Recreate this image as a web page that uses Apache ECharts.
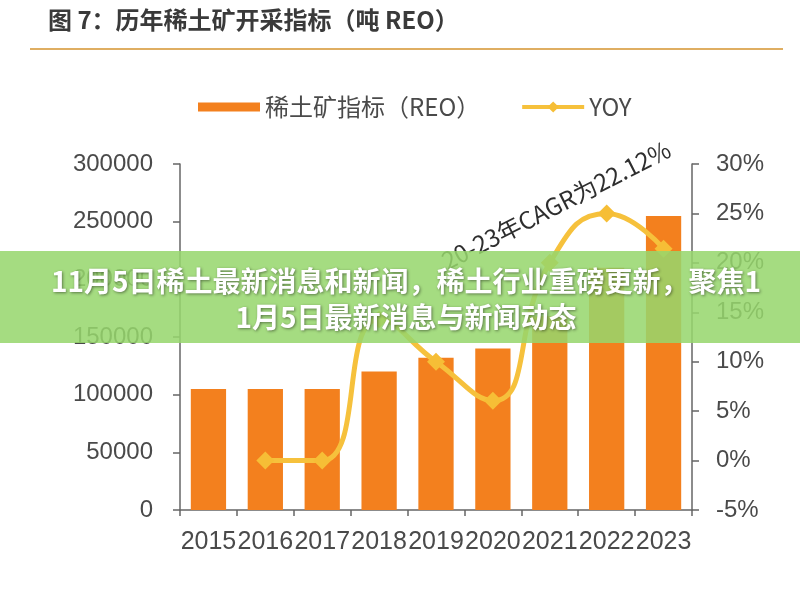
<!DOCTYPE html>
<html>
<head>
<meta charset="utf-8">
<script src="https://cdn.jsdelivr.net/npm/echarts@6/dist/echarts.min.js"></script>
<style>html,body{margin:0;padding:0;background:#fff;}#c{width:800px;height:594px;}</style>
</head>
<body>
<div id="c"></div>
<script>
var years = ['2015','2016','2017','2018','2019','2020','2021','2022','2023'];
var quota = [105000,105000,105000,120000,132000,140000,168000,210000,255000];
var yoy = [null,0,0,14.29,10,6.06,20,25,21.43];
var leftTicks = {min:0, max:300000, interval:50000};
var rightTicks = {min:-5, max:30, interval:5};
var titleText = '图 7：历年稀土矿开采指标（吨 REO）';
var barName = '稀土矿指标（REO）';
var lineName = 'YOY';
var annotation = '20-23年CAGR为22.12%';
var bannerText = '11月5日稀土最新消息和新闻，稀土行业重磅更新，聚焦1\n1月5日最新消息与新闻动态';

var chart = echarts.init(document.getElementById('c'), null, {renderer:'canvas'});
var axisFont = {fontFamily:'Liberation Sans, Arial, sans-serif', fontSize:24, color:'#4a4a4a'};
chart.setOption({
  backgroundColor:'#ffffff',
  animation:false,
  textStyle:{fontFamily:'Liberation Sans, Noto Sans CJK SC, sans-serif'},
  legend:{
    left:193, top:90, itemWidth:62, itemHeight:14, itemGap:40,
    textStyle:{fontSize:24, color:'#4a4a4a', fontFamily:'Noto Sans CJK SC, Liberation Sans, sans-serif'},
    data:[
      {name:barName, icon:'path://M0,0H62V9H0Z'},
      {name:lineName, lineStyle:{width:4, color:'#F6C13C'}, itemStyle:{color:'#F6BE36'}}
    ]
  },
  grid:{left:180, right:108, top:164, bottom:84},
  xAxis:{
    type:'category', data:years, boundaryGap:true,
    axisLine:{lineStyle:{color:'#666', width:1.5}},
    axisTick:{show:true, length:6, lineStyle:{color:'#666', width:1.5}},
    axisLabel:Object.assign({interval:0, margin:20}, axisFont, {fontSize:25})
  },
  yAxis:[{
    type:'value', min:leftTicks.min, max:leftTicks.max, interval:leftTicks.interval,
    axisLine:{show:true, lineStyle:{color:'#666', width:1.5}},
    axisTick:{show:true, length:7, lineStyle:{color:'#666', width:1.5}},
    splitLine:{show:false},
    axisLabel:Object.assign({margin:27, formatter:function(v){return String(v);}}, axisFont)
  },{
    type:'value', min:rightTicks.min, max:rightTicks.max, interval:rightTicks.interval,
    axisLine:{show:true, lineStyle:{color:'#666', width:1.5}},
    axisTick:{show:true, length:7, lineStyle:{color:'#666', width:1.5}},
    splitLine:{show:false},
    axisLabel:Object.assign({margin:24, formatter:'{value}%'}, axisFont)
  }],
  series:[{
    name:barName, type:'bar', data:quota, barWidth:'62%',
    itemStyle:{color:'#F3801E'}
  },{
    name:lineName, type:'line', yAxisIndex:1, data:yoy, smooth:0.5,
    symbol:'diamond', symbolSize:18, connectNulls:false,
    lineStyle:{color:'#F6C13C', width:5},
    itemStyle:{color:'#F6BE36'}
  }],
  graphic:[
    {type:'text', left:48, top:8, z:10, style:{text:titleText, font:'bold 24px "Noto Sans CJK SC", sans-serif', fill:'#3a3a3a'}},
    {type:'line', z:10, shape:{x1:30,y1:49,x2:783,y2:49}, style:{stroke:'#DFAE62', lineWidth:2}},
    {type:'text', x:556, y:205, rotation:27*Math.PI/180, z:50,
      style:{text:annotation, font:'24px "Noto Sans CJK SC", sans-serif', fill:'#2e2e2e', align:'center', verticalAlign:'middle'}},
    {type:'rect', z:100, shape:{x:0,y:251,width:800,height:92}, style:{fill:'rgba(150,214,108,0.86)'}},
    {type:'text', x:406, y:299, z:101,
      style:{text:bannerText, font:'bold 28px "Noto Sans CJK SC", sans-serif', lineHeight:36, fill:'#ffffff', align:'center', verticalAlign:'middle',
        textShadowColor:'rgba(0,0,0,0.45)', textShadowBlur:3, textShadowOffsetX:1, textShadowOffsetY:1}}
  ]
});
</script>
</body>
</html>
